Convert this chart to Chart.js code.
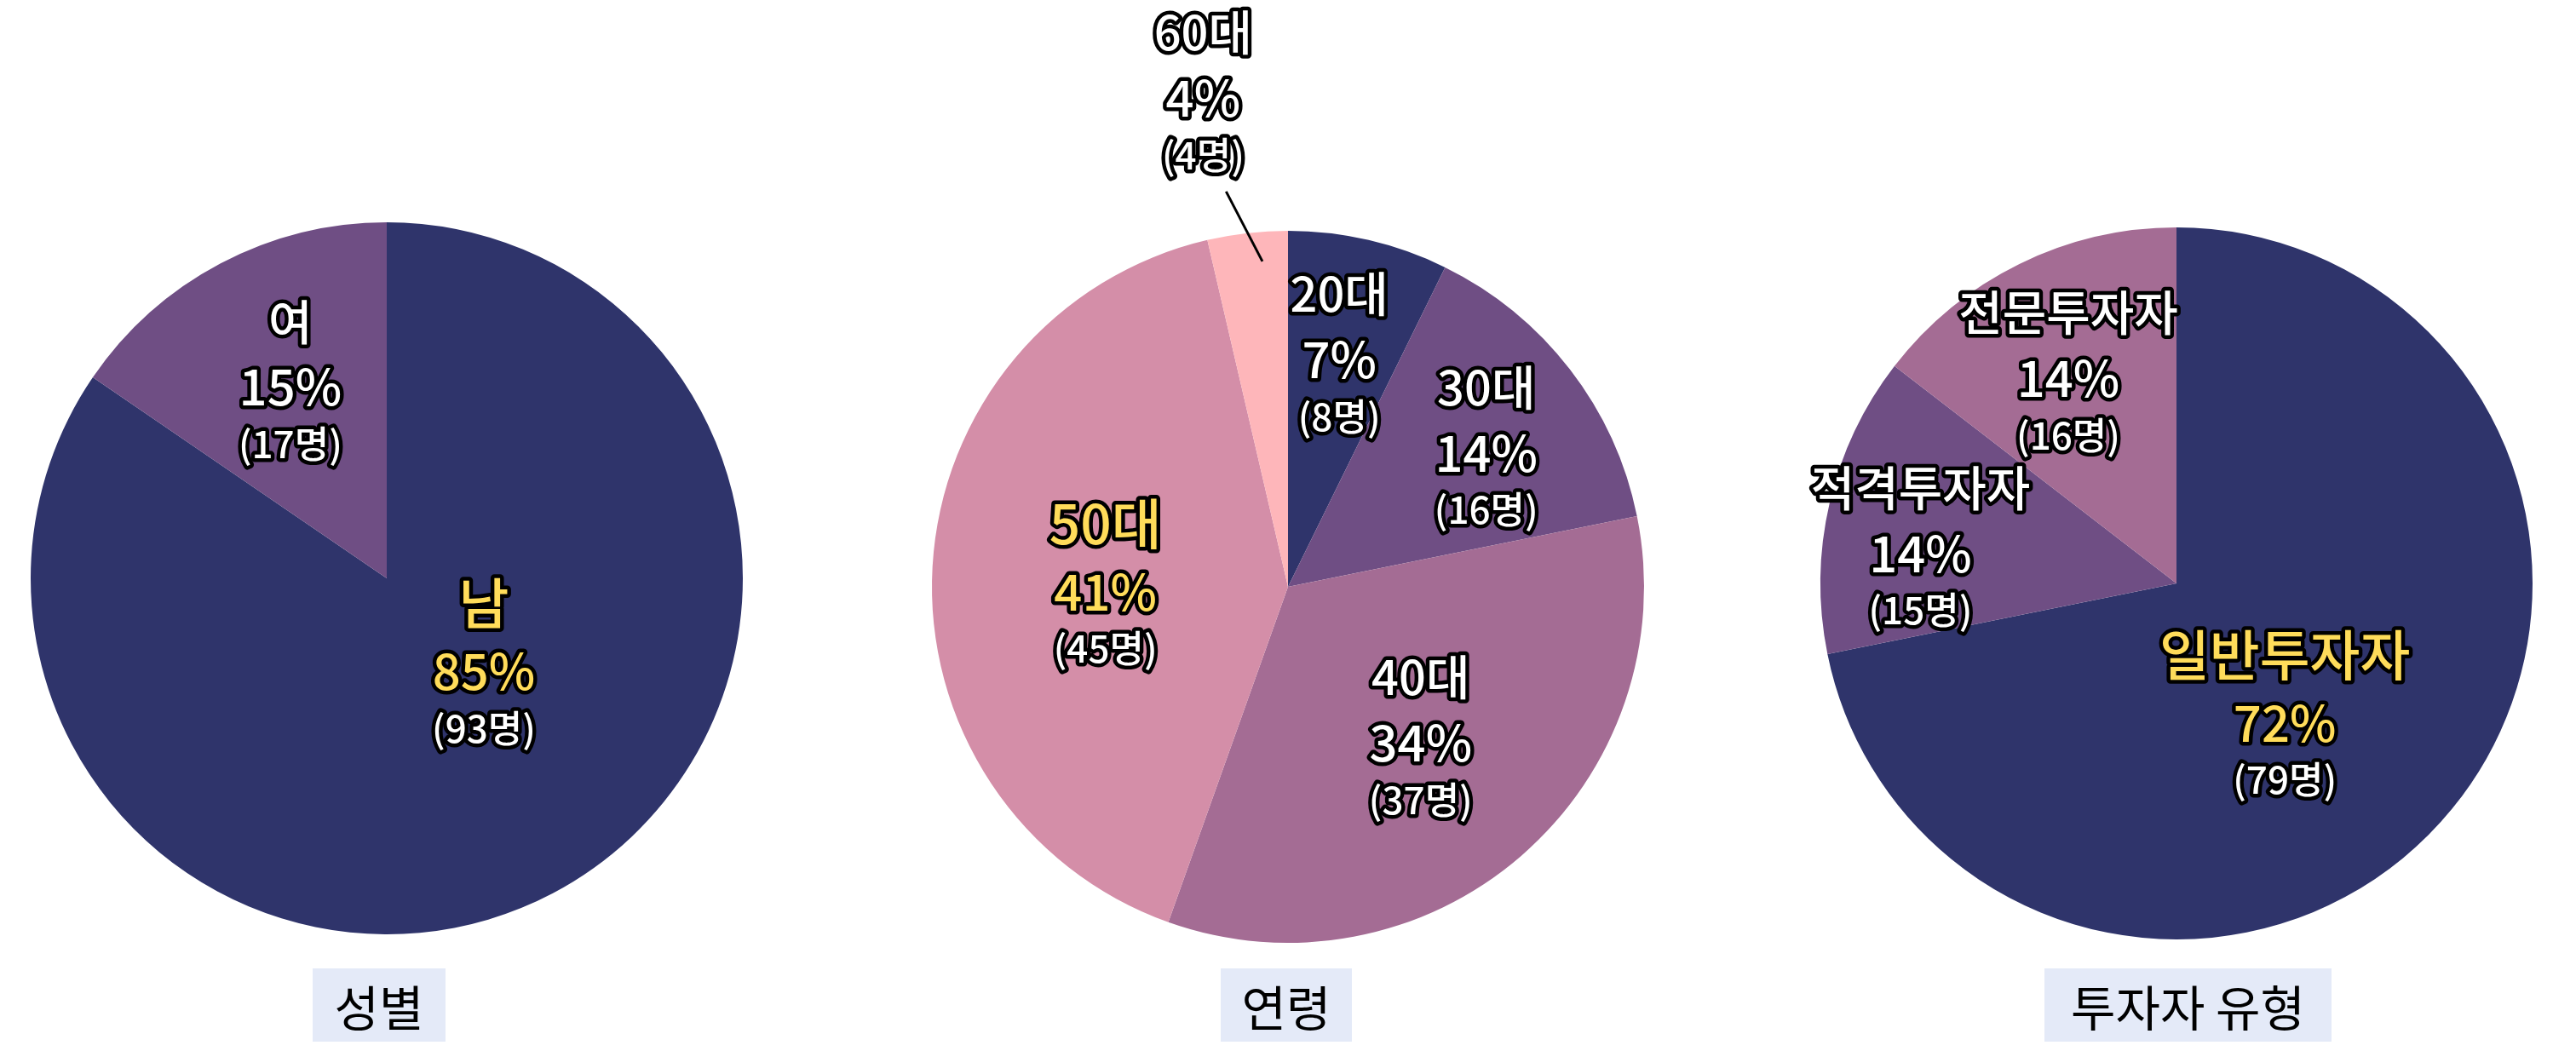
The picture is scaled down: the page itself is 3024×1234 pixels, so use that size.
<!DOCTYPE html>
<html>
<head>
<meta charset="utf-8">
<script src="https://cdn.jsdelivr.net/npm/chart.js@4.4.1/dist/chart.umd.min.js"></script>
<style>
  html, body { margin: 0; padding: 0; background: #ffffff; }
  body { width: 3024px; height: 1234px; position: relative; overflow: hidden; }
  canvas { position: absolute; top: 0; }
  .ttl { position: absolute; top: 1137px; height: 86px; background: #E4EAF8; color: #000;
         font-family: "Noto Sans CJK KR", "Noto Sans", sans-serif; font-size: 57px; line-height: 86px;
         text-align: center; }
</style>
</head>
<body>
<canvas id="c1" width="1008" height="1234" style="left:0px"></canvas>
<canvas id="c2" width="1008" height="1234" style="left:1008px"></canvas>
<canvas id="c3" width="1008" height="1234" style="left:2016px"></canvas>
<div class="ttl" style="left:367px;width:156px">성별</div>
<div class="ttl" style="left:1433px;width:154px">연령</div>
<div class="ttl" style="left:2400px;width:337px">투자자 유형</div>
<script>
// ---------- data ----------
const genderLabels = ['남', '여'];
const genderCounts = [93, 17];
const genderPct = ['85%', '15%'];

const ageLabels = ['20대', '30대', '40대', '50대', '60대'];
const ageCounts = [8, 16, 37, 45, 4];
const agePct = ['7%', '14%', '34%', '41%', '4%'];

const investorLabels = ['일반투자자', '적격투자자', '전문투자자'];
const investorCounts = [79, 15, 16];
const investorPct = ['72%', '14%', '14%'];

const chartTitles = ['성별', '연령', '투자자 유형'];

// ---------- style ----------
const NAVY = '#2F346B', PURPLE = '#6F4E84', MAUVE = '#A46C94', PINK = '#D48EA8', LPINK = '#FEB6BA';
const YELLOW = '#FFDC5A';
const FONT = '"Noto Sans CJK KR", "Noto Sans", sans-serif';

// label placement: [radius fraction, angle offset in degrees from slice middle]
const genderPlace = [[0.377, -18.5], [0.602, 1.1]];
const agePlace = [[0.655, -0.4], [0.672, 3.6], [0.575, 0.5], [0.513, -4.8], [1.394, -3.3]];
const investorPlace = [[0.496, 12.9], [0.724, -6.4], [0.652, -1.6]];

function drawOutlined(ctx, text, x, y, font, fill) {
  ctx.font = font;
  ctx.lineJoin = 'round';
  ctx.lineWidth = 9;
  ctx.strokeStyle = '#000';
  ctx.strokeText(text, x, y);
  ctx.fillStyle = fill;
  ctx.fillText(text, x, y);
}

function labelPlugin(names, pcts, counts, place, leaderIndex) {
  return {
    id: 'sliceLabels',
    afterDatasetsDraw(chart) {
      const ctx = chart.ctx;
      const meta = chart.getDatasetMeta(0);
      const maxIdx = counts.indexOf(Math.max(...counts));
      ctx.save();
      ctx.textAlign = 'center';
      ctx.textBaseline = 'middle';
      meta.data.forEach((arc, i) => {
        const p = arc.getProps(['x', 'y', 'startAngle', 'endAngle', 'outerRadius'], true);
        const mid = (p.startAngle + p.endAngle) / 2;
        const a = mid + place[i][1] * Math.PI / 180;
        const r = p.outerRadius * place[i][0];
        const x = p.x + Math.cos(a) * r;
        const y = p.y + Math.sin(a) * r;
        const hi = i === maxIdx;
        const col = hi ? YELLOW : '#FFFFFF';
        drawOutlined(ctx, names[i], x, y - (hi ? 80 : 77), `500 ${hi ? 64 : 56}px ${FONT}`, col);
        drawOutlined(ctx, pcts[i], x, y, `500 58px ${FONT}`, col);
        drawOutlined(ctx, `(${counts[i]}명)`, x, y + 67, `500 44px ${FONT}`, '#FFFFFF');
        if (i === leaderIndex) {
          const a1 = mid + 2.05 * Math.PI / 180, a2 = mid - 2.35 * Math.PI / 180;
          ctx.beginPath();
          ctx.moveTo(p.x + Math.cos(a1) * p.outerRadius * 0.917, p.y + Math.sin(a1) * p.outerRadius * 0.917);
          ctx.lineTo(p.x + Math.cos(a2) * p.outerRadius * 1.124, p.y + Math.sin(a2) * p.outerRadius * 1.124);
          ctx.lineWidth = 3;
          ctx.strokeStyle = '#000';
          ctx.stroke();
        }
      });
      ctx.restore();
    }
  };
}

function makePie(id, labels, counts, colors, padding, plugin) {
  return new Chart(document.getElementById(id), {
    type: 'pie',
    data: { labels: labels, datasets: [{ data: counts, backgroundColor: colors, borderWidth: 0 }] },
    options: {
      responsive: false,
      animation: false,
      layout: { padding: padding },
      plugins: { legend: { display: false }, tooltip: { enabled: false }, title: { display: false } }
    },
    plugins: [plugin]
  });
}

makePie('c1', genderLabels, genderCounts, [NAVY, PURPLE],
  { left: 36, top: 261, right: 136, bottom: 137 },
  labelPlugin(genderLabels, genderPct, genderCounts, genderPlace, -1));

makePie('c2', ageLabels, ageCounts, [NAVY, PURPLE, MAUVE, PINK, LPINK],
  { left: 86, top: 271, right: 86, bottom: 127 },
  labelPlugin(ageLabels, agePct, ageCounts, agePlace, 4));

makePie('c3', investorLabels, investorCounts, [NAVY, PURPLE, MAUVE],
  { left: 121, top: 267, right: 51, bottom: 131 },
  labelPlugin(investorLabels, investorPct, investorCounts, investorPlace, -1));
</script>
</body>
</html>
